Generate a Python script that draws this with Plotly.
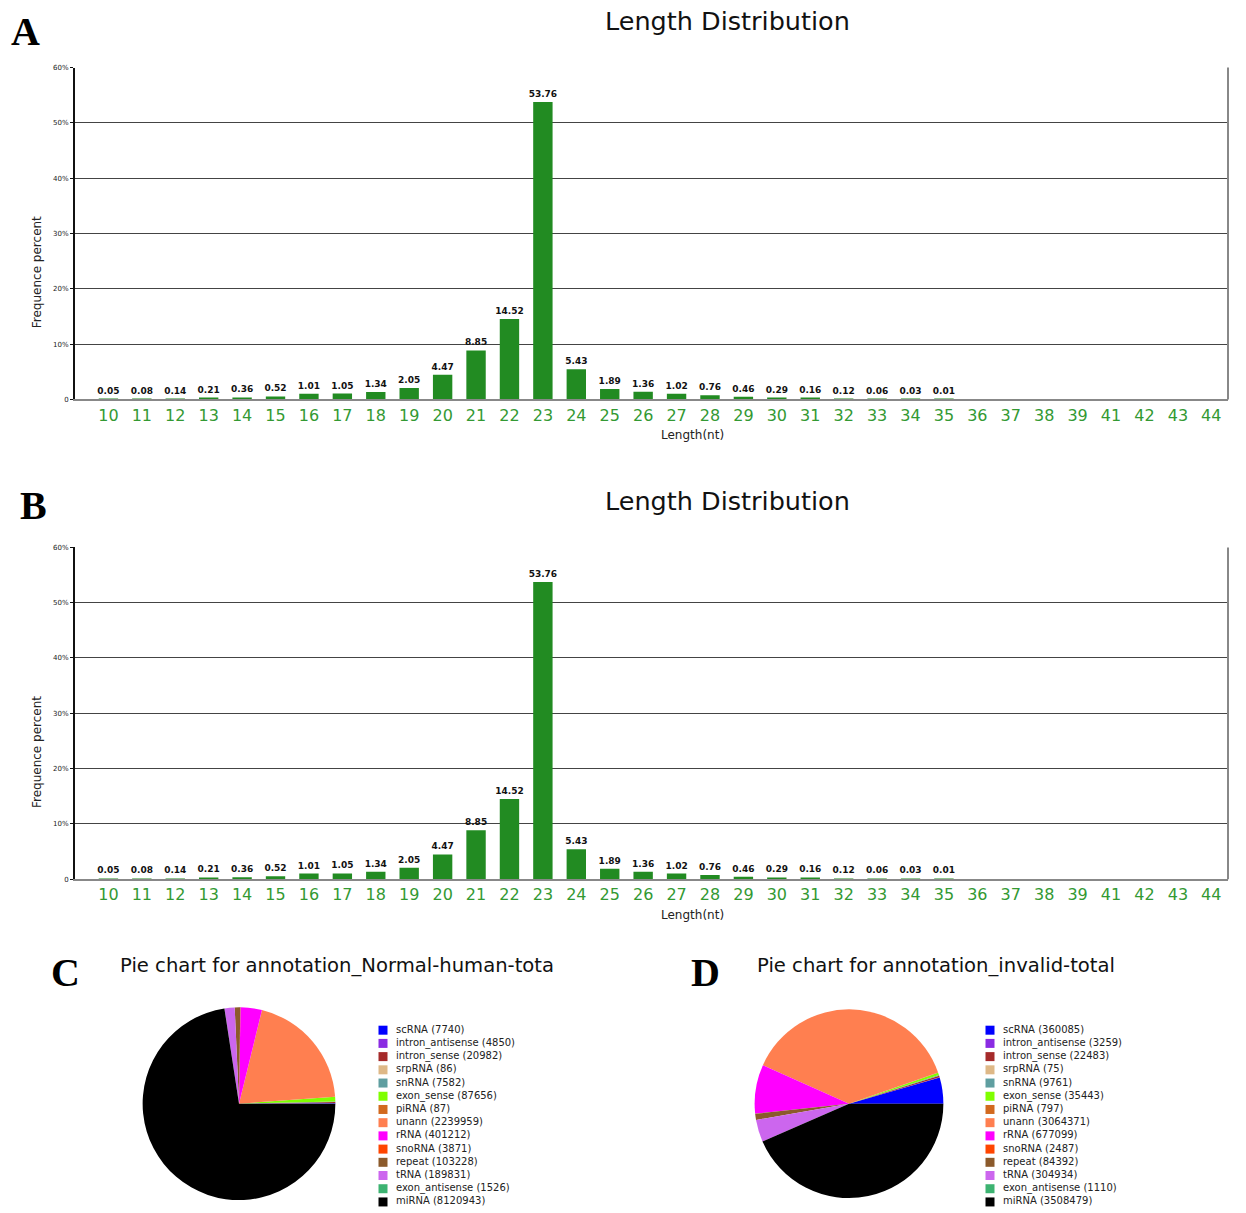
import plotly.graph_objects as go

W, H = 1246, 1213

# ---------------- data ----------------
lengths = ["10", "11", "12", "13", "14", "15", "16", "17", "18", "19", "20", "21",
           "22", "23", "24", "25", "26", "27", "28", "29", "30", "31", "32", "33",
           "34", "35", "36", "37", "38", "39", "41", "42", "43", "44"]
freq_A = [0.05, 0.08, 0.14, 0.21, 0.36, 0.52, 1.01, 1.05, 1.34, 2.05, 4.47, 8.85,
          14.52, 53.76, 5.43, 1.89, 1.36, 1.02, 0.76, 0.46, 0.29, 0.16, 0.12, 0.06,
          0.03, 0.01, 0, 0, 0, 0, 0, 0, 0, 0]
freq_B = [0.05, 0.08, 0.14, 0.21, 0.36, 0.52, 1.01, 1.05, 1.34, 2.05, 4.47, 8.85,
          14.52, 53.76, 5.43, 1.89, 1.36, 1.02, 0.76, 0.46, 0.29, 0.16, 0.12, 0.06,
          0.03, 0.01, 0, 0, 0, 0, 0, 0, 0, 0]
ytick_vals = [0, 10, 20, 30, 40, 50, 60]
ytick_text = ["0", "10%", "20%", "30%", "40%", "50%", "60%"]

rna_types = ["scRNA", "intron_antisense", "intron_sense", "srpRNA", "snRNA",
             "exon_sense", "piRNA", "unann", "rRNA", "snoRNA", "repeat", "tRNA",
             "exon_antisense", "miRNA"]
counts_C = [7740, 4850, 20982, 86, 7582, 87656, 87, 2239959, 401212, 3871,
            103228, 189831, 1526, 8120943]
counts_D = [360085, 3259, 22483, 75, 9761, 35443, 797, 3064371, 677099, 2487,
            84392, 304934, 1110, 3508479]
rna_colors = ["#0000FF", "#8A2BE2", "#A52A2A", "#DEB887", "#5F9EA0", "#7FFF00",
              "#D2691E", "#FF7F50", "#FF00FF", "#FF4500", "#8B5A2B", "#CC66EE",
              "#3CB371", "#000000"]

title_bar = "Length Distribution"
title_C = "Pie chart for annotation_Normal-human-tota"
title_D = "Pie chart for annotation_invalid-total"


# ---------------- helpers (window pixel -> paper) ----------------
def px(x):
    return min(1.0, max(0.0, x / W))


def py(y):
    return min(1.0, max(0.0, 1 - y / H))


BAR_GREEN = "#228B22"
TICK_GREEN = "#339933"
FONT = "DejaVu Sans"

fig = go.Figure()


def bar_labels(vals):
    return [f"{v:.2f}" if v > 0 else "" for v in vals]


for vals, xa, ya in [(freq_A, "x", "y"), (freq_B, "x2", "y2")]:
    fig.add_trace(go.Bar(
        x=lengths, y=vals, xaxis=xa, yaxis=ya,
        marker=dict(color=BAR_GREEN, line=dict(width=0)),
        width=0.58,
        text=bar_labels(vals), textposition="outside",
        textfont=dict(family=FONT, size=9, color="#111111", weight="bold"),
        constraintext="none", cliponaxis=False, showlegend=False,
        hoverinfo="x+y",
    ))

# pies: first slice starts at 3 o'clock and slices run counterclockwise
for counts, (cx, cy, r) in [(counts_C, (239, 1107, 97)), (counts_D, (849, 1107, 95))]:
    first_deg = 360.0 * counts[0] / sum(counts)
    fig.add_trace(go.Pie(
        labels=rna_types, values=counts, sort=False, direction="counterclockwise",
        rotation=90 - first_deg,
        marker=dict(colors=rna_colors, line=dict(width=0)),
        textinfo="none", showlegend=False,
        domain=dict(x=[px(cx - r), px(cx + r)], y=[py(cy + r), py(cy - r)]),
        hoverinfo="label+value+percent",
    ))

# compact legends drawn as scatter markers + text
idx = list(range(len(rna_types)))
for counts, xa, ya in [(counts_C, "x3", "y3"), (counts_D, "x4", "y4")]:
    fig.add_trace(go.Scatter(
        x=[0] * len(rna_types), y=idx, xaxis=xa, yaxis=ya,
        mode="markers+text",
        marker=dict(symbol="square", size=9, color=rna_colors, line=dict(width=0)),
        text=["\u00a0\u00a0" + f"{n} ({c})" for n, c in zip(rna_types, counts)],
        textposition="middle right",
        textfont=dict(family=FONT, size=10, color="#222222"),
        cliponaxis=False, showlegend=False, hoverinfo="text",
    ))

bar_x_dom = [px(75), px(1228)]
A_y_dom = [py(398), py(64)]
B_y_dom = [py(881), py(547)]

common_x = dict(
    type="category", range=[-1, 33.5], showgrid=False,
    showline=True, linecolor="#888888", linewidth=2, mirror=False,
    ticks="", tickfont=dict(family=FONT, size=16, color=TICK_GREEN),
    fixedrange=True,
)
common_y = dict(
    range=[0, 60], tickvals=ytick_vals, ticktext=ytick_text,
    showgrid=True, gridcolor="#444444", gridwidth=1,
    showline=True, linecolor="#111111", linewidth=2,
    ticks="outside", ticklen=3, tickcolor="#111111",
    tickfont=dict(family=FONT, size=7, color="#222222"),
    zeroline=False, fixedrange=True,
)

# legend axes: items spaced ~13.3 px, first item centred at y=1033
LEG_STEP, LEG_FIRST = 13.3, 1033
leg_top = LEG_FIRST - LEG_STEP / 2
leg_bottom = H
leg_units = (leg_bottom - leg_top) / LEG_STEP
leg_y_range = [-0.5 + leg_units, -0.5]
leg_y_dom = [py(leg_bottom), py(leg_top)]
hidden = dict(visible=False, fixedrange=True)

fig.update_layout(
    width=W, height=H,
    margin=dict(l=0, r=0, t=0, b=0),
    paper_bgcolor="white", plot_bgcolor="white",
    font=dict(family=FONT),
    xaxis=dict(domain=bar_x_dom, anchor="y", **common_x),
    yaxis=dict(domain=A_y_dom, anchor="x", **common_y),
    xaxis2=dict(domain=bar_x_dom, anchor="y2", **common_x),
    yaxis2=dict(domain=B_y_dom, anchor="x2", **common_y),
    xaxis3=dict(domain=[px(383), px(560)], range=[0, 1], anchor="y3", **hidden),
    yaxis3=dict(domain=leg_y_dom, range=leg_y_range, anchor="x3", **hidden),
    xaxis4=dict(domain=[px(990), px(1180)], range=[0, 1], anchor="y4", **hidden),
    yaxis4=dict(domain=leg_y_dom, range=leg_y_range, anchor="x4", **hidden),
)

# right border lines of bar panels
for xr, yr in [("x domain", "y domain"), ("x2 domain", "y2 domain")]:
    fig.add_shape(type="line", xref=xr, yref=yr, x0=1, x1=1, y0=0, y1=1,
                  line=dict(color="#888888", width=2))

ann = []
for ty in (17, 500):
    ann.append(dict(text=title_bar, x=px(727), y=py(ty), xref="paper", yref="paper",
                    showarrow=False, xanchor="center", yanchor="middle",
                    font=dict(family=FONT, size=25.5, color="#111111")))
for yc in (270, 753):
    ann.append(dict(text="Frequence percent", x=px(37), y=py(yc), xref="paper",
                    yref="paper", showarrow=False, textangle=-90,
                    xanchor="center", yanchor="middle",
                    font=dict(family=FONT, size=12, color="#222222")))
for yc in (434, 917):
    ann.append(dict(text="Length(nt)", x=px(692), y=py(yc), xref="paper",
                    yref="paper", showarrow=False, xanchor="center", yanchor="middle",
                    font=dict(family=FONT, size=12, color="#222222")))
ann.append(dict(text=title_C, x=px(118), y=py(968), xref="paper", yref="paper",
                showarrow=False, xanchor="left", yanchor="middle",
                font=dict(family=FONT, size=19.6, color="#111111")))
ann.append(dict(text=title_D, x=px(755), y=py(968), xref="paper", yref="paper",
                showarrow=False, xanchor="left", yanchor="middle",
                font=dict(family=FONT, size=19.6, color="#111111")))
for letter, (lx, ly) in {"A": (25, 28), "B": (33, 505), "C": (65, 975),
                         "D": (705, 975)}.items():
    ann.append(dict(text=f"<b>{letter}</b>", x=px(lx), y=py(ly), xref="paper",
                    yref="paper", showarrow=False, xanchor="center",
                    yanchor="middle",
                    font=dict(family="Liberation Serif", size=40, color="#000000")))

fig.update_layout(annotations=ann)

# remove the browser's default 8px body margin so the figure fills the window
fig.write_html("out.html",
               config={"displayModeBar": False},
               post_script="document.body.style.margin='0';"
                           "document.body.style.overflow='hidden';")
